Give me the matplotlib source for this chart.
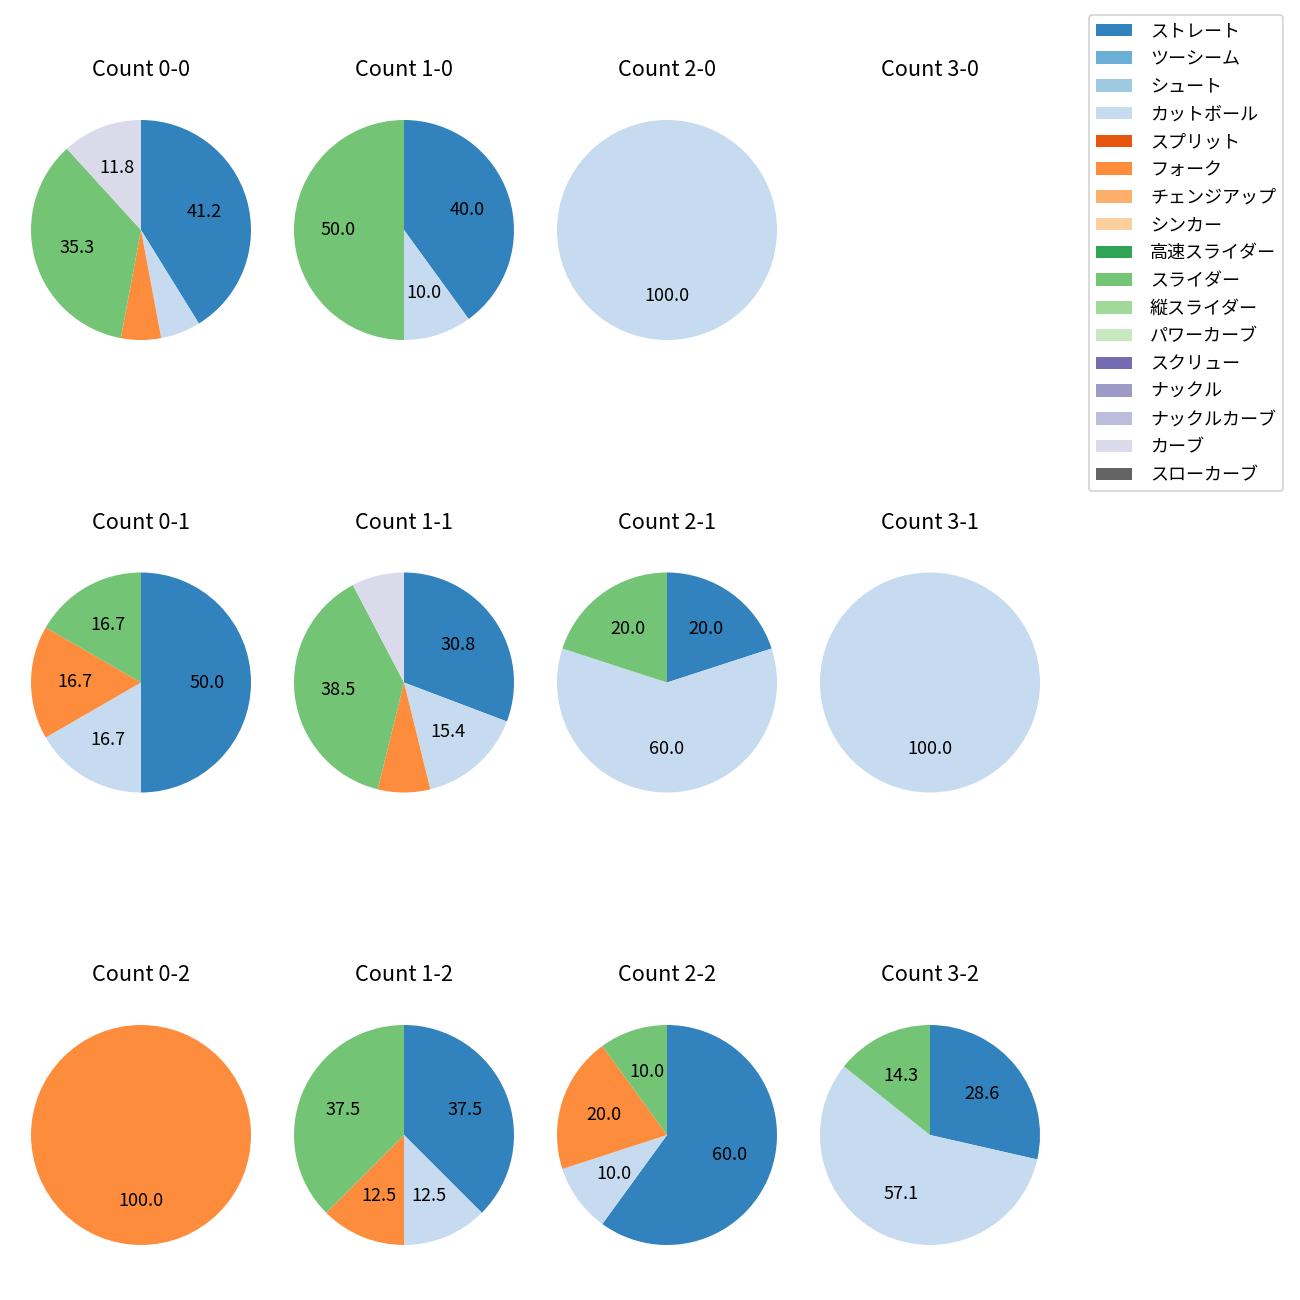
import matplotlib
matplotlib.use('Agg')
import matplotlib.pyplot as plt
from matplotlib.patches import Patch

plt.rcParams['font.family'] = ['Noto Sans CJK JP', 'DejaVu Sans']

pitch_types = ['ストレート', 'ツーシーム', 'シュート', 'カットボール', 'スプリット', 'フォーク',
               'チェンジアップ', 'シンカー', '高速スライダー', 'スライダー', '縦スライダー',
               'パワーカーブ', 'スクリュー', 'ナックル', 'ナックルカーブ', 'カーブ', 'スローカーブ']
colors = ['#3182bd', '#6baed6', '#9ecae1', '#c6dbef', '#e6550d', '#fd8d3c', '#fdae6b',
          '#fdd0a2', '#31a354', '#74c476', '#a1d99b', '#c7e9c0', '#756bb1', '#9e9ac8',
          '#bcbddc', '#dadaeb', '#636363']

# カウント順: 0-0,1-0,2-0,3-0, 0-1,1-1,2-1,3-1, 0-2,1-2,2-2,3-2
counts = ['0-0', '1-0', '2-0', '3-0', '0-1', '1-1', '2-1', '3-1', '0-2', '1-2', '2-2', '3-2']
straight = [7, 4, 0, 0, 3, 4, 1, 0, 0, 3, 6, 2]
cutball = [1, 1, 1, 0, 1, 2, 3, 1, 0, 1, 1, 4]
fork = [1, 0, 0, 0, 1, 1, 0, 0, 1, 1, 2, 0]
slider = [6, 5, 0, 0, 1, 5, 1, 0, 0, 3, 1, 1]
curve = [2, 0, 0, 0, 0, 1, 0, 0, 0, 0, 0, 0]

series = {'ストレート': straight, 'カットボール': cutball, 'フォーク': fork,
          'スライダー': slider, 'カーブ': curve}


def pct_label(p):
    return f'{p:.1f}' if p >= 10 else ''


fig = plt.figure(figsize=(10, 10), dpi=130)
side = 275 / 1300
for i, c in enumerate(counts):
    row, col = i // 4, i % 4
    cx = (141 + 263 * col) / 1300
    cy = 1 - (230 + 452.5 * row) / 1300
    ax = fig.add_axes([cx - side / 2, cy - side / 2, side, side])
    vals, cols = [], []
    for name, colr in zip(pitch_types, colors):
        if name in series and series[name][i] > 0:
            vals.append(series[name][i])
            cols.append(colr)
    if vals:
        ax.pie(vals, colors=cols, startangle=90, counterclock=False,
               autopct=pct_label, textprops={'fontsize': 10})
    else:
        ax.set_xlim(-1.25, 1.25)
        ax.set_ylim(-1.25, 1.25)
        ax.axis('off')
    ax.set_title(f'Count {c}', fontsize=12, pad=9)

handles = [Patch(facecolor=colr, label=name) for name, colr in zip(pitch_types, colors)]
fig.legend(handles=handles, loc='upper right', bbox_to_anchor=(0.994, 0.9954), fontsize=10,
           labelspacing=0.54, handletextpad=1.0)

fig.savefig('out.png')
